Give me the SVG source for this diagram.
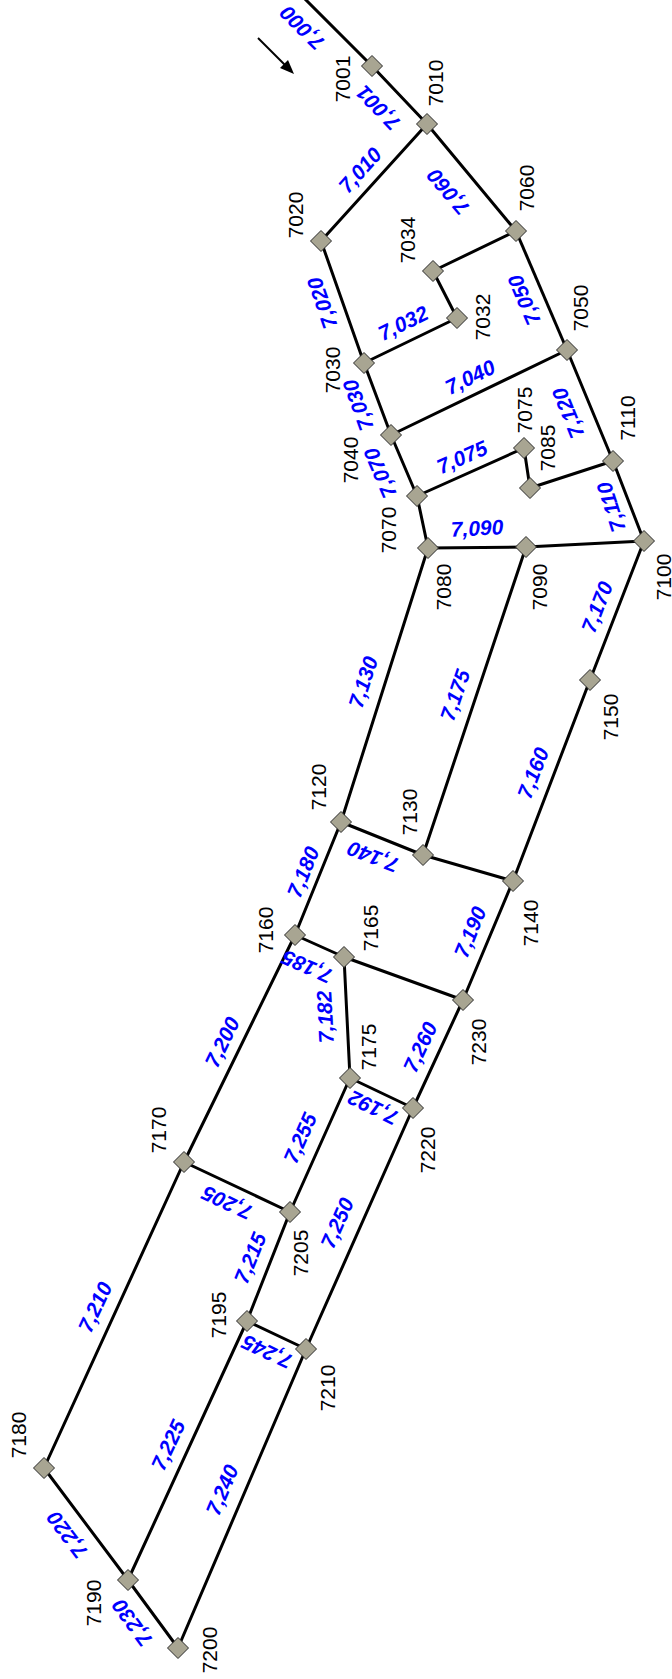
<svg xmlns="http://www.w3.org/2000/svg" xmlns:xlink="http://www.w3.org/1999/xlink" width="672" height="1679" viewBox="0 0 672 1679">
<style>
.e{stroke:#000;stroke-width:3;fill:none;stroke-linecap:round}
.nl{font-family:"Liberation Sans",Arial,sans-serif;font-size:21px;fill:#000;text-anchor:middle;dominant-baseline:central}
.el{font-family:"Liberation Sans",Arial,sans-serif;font-size:21px;font-weight:bold;font-style:italic;fill:#0000ff;text-anchor:middle;dominant-baseline:central}
.nd{fill:#a8a592;stroke:#2a2a2a;stroke-width:1}
</style>
<defs>
<polygon id="d" class="nd" points="0,-10.5 10.5,0 0,10.5 -10.5,0"/>
</defs>
<rect width="672" height="1679" fill="#fff"/>
<g id="connectors">
<path class="e" d="M304,-2 L372,66"/>
<path class="e" d="M372,66 L427,124"/>
<path class="e" d="M427,124 L321,241"/>
<path class="e" d="M427,124 L516,231"/>
<path class="e" d="M516,231 L433,271"/>
<path class="e" d="M433,271 L457,318"/>
<path class="e" d="M457,318 L364,363"/>
<path class="e" d="M321,241 L364,363"/>
<path class="e" d="M516,231 L567,350"/>
<path class="e" d="M364,363 L391,435"/>
<path class="e" d="M391,435 L567,350"/>
<path class="e" d="M567,350 L613,461"/>
<path class="e" d="M391,435 L417,496"/>
<path class="e" d="M417,496 L524,448"/>
<path class="e" d="M524,448 L530,488"/>
<path class="e" d="M530,488 L613,461"/>
<path class="e" d="M613,461 L644,541"/>
<path class="e" d="M417,496 L428,548"/>
<path class="e" d="M428,548 L526,547"/>
<path class="e" d="M526,547 L644,541"/>
<path class="e" d="M644,541 L590,680"/>
<path class="e" d="M590,680 L513,881"/>
<path class="e" d="M526,547 L423,855"/>
<path class="e" d="M428,548 L341,822"/>
<path class="e" d="M341,822 L423,855"/>
<path class="e" d="M423,855 L513,881"/>
<path class="e" d="M513,881 L463,1000"/>
<path class="e" d="M341,822 L295,935"/>
<path class="e" d="M295,935 L344,957"/>
<path class="e" d="M344,957 L463,1000"/>
<path class="e" d="M344,957 L350,1078"/>
<path class="e" d="M350,1078 L413,1108"/>
<path class="e" d="M413,1108 L463,1000"/>
<path class="e" d="M295,935 L184,1162"/>
<path class="e" d="M350,1078 L290,1212"/>
<path class="e" d="M184,1162 L290,1212"/>
<path class="e" d="M290,1212 L247,1321"/>
<path class="e" d="M413,1108 L306,1349"/>
<path class="e" d="M247,1321 L306,1349"/>
<path class="e" d="M184,1162 L44,1468"/>
<path class="e" d="M247,1321 L128,1580"/>
<path class="e" d="M306,1349 L178,1648"/>
<path class="e" d="M44,1468 L128,1580"/>
<path class="e" d="M128,1580 L178,1648"/>
<path d="M258,38 L287,67" stroke="#000" stroke-width="2" fill="none"/>
<polygon points="294,74 280,68 288,60" fill="#000"/>
</g>
<g id="edge-labels">
<text class="el" transform="translate(302,28) rotate(225)">7,000</text>
<text class="el" transform="translate(378,108) rotate(226)">7,001</text>
<text class="el" transform="translate(360,170) rotate(-48)">7,010</text>
<text class="el" transform="translate(448,192) rotate(230)">7,060</text>
<text class="el" transform="translate(322,303) rotate(-109)">7,020</text>
<text class="el" transform="translate(524,300) rotate(-113)">7,050</text>
<text class="el" transform="translate(403,323) rotate(-26)">7,032</text>
<text class="el" transform="translate(470,377) rotate(-26)">7,040</text>
<text class="el" transform="translate(358,405) rotate(-110)">7,030</text>
<text class="el" transform="translate(380,473) rotate(-113)">7,070</text>
<text class="el" transform="translate(462,457) rotate(-24)">7,075</text>
<text class="el" transform="translate(568,413) rotate(-112)">7,120</text>
<text class="el" transform="translate(611,507) rotate(-108)">7,110</text>
<text class="el" transform="translate(477,528) rotate(-3)">7,090</text>
<text class="el" transform="translate(363,682) rotate(-72)">7,130</text>
<text class="el" transform="translate(455,695) rotate(-71)">7,175</text>
<text class="el" transform="translate(597,607) rotate(-69)">7,170</text>
<text class="el" transform="translate(533,773) rotate(-69)">7,160</text>
<text class="el" transform="translate(373,857) rotate(201)">7,140</text>
<text class="el" transform="translate(303,872) rotate(-68)">7,180</text>
<text class="el" transform="translate(307,967) rotate(204)">7,185</text>
<text class="el" transform="translate(325,1017) rotate(-93)">7,182</text>
<text class="el" transform="translate(470,932) rotate(-68)">7,190</text>
<text class="el" transform="translate(222,1042) rotate(-64)">7,200</text>
<text class="el" transform="translate(420,1047) rotate(-65)">7,260</text>
<text class="el" transform="translate(373,1108) rotate(206)">7,192</text>
<text class="el" transform="translate(300,1138) rotate(-66)">7,255</text>
<text class="el" transform="translate(227,1203) rotate(205)">7,205</text>
<text class="el" transform="translate(250,1258) rotate(-68)">7,215</text>
<text class="el" transform="translate(337,1223) rotate(-66)">7,250</text>
<text class="el" transform="translate(95,1307) rotate(-65)">7,210</text>
<text class="el" transform="translate(267,1352) rotate(205)">7,245</text>
<text class="el" transform="translate(67,1535) rotate(233)">7,220</text>
<text class="el" transform="translate(132,1623) rotate(234)">7,230</text>
<text class="el" transform="translate(168,1445) rotate(-65)">7,225</text>
<text class="el" transform="translate(222,1490) rotate(-67)">7,240</text>
</g>
<g id="n7001"><use xlink:href="#d" x="372" y="66"/><text class="nl" transform="translate(342,79) rotate(-90)">7001</text></g>
<g id="n7010"><use xlink:href="#d" x="427" y="124"/><text class="nl" transform="translate(435,83) rotate(-90)">7010</text></g>
<g id="n7020"><use xlink:href="#d" x="321" y="241"/><text class="nl" transform="translate(295,215) rotate(-90)">7020</text></g>
<g id="n7060"><use xlink:href="#d" x="516" y="231"/><text class="nl" transform="translate(526,188) rotate(-90)">7060</text></g>
<g id="n7034"><use xlink:href="#d" x="433" y="271"/><text class="nl" transform="translate(407,240) rotate(-90)">7034</text></g>
<g id="n7032"><use xlink:href="#d" x="457" y="318"/><text class="nl" transform="translate(482,317) rotate(-90)">7032</text></g>
<g id="n7030"><use xlink:href="#d" x="364" y="363"/><text class="nl" transform="translate(332,370) rotate(-90)">7030</text></g>
<g id="n7050"><use xlink:href="#d" x="567" y="350"/><text class="nl" transform="translate(580,308) rotate(-90)">7050</text></g>
<g id="n7040"><use xlink:href="#d" x="391" y="435"/><text class="nl" transform="translate(350,460) rotate(-90)">7040</text></g>
<g id="n7075"><use xlink:href="#d" x="524" y="448"/><text class="nl" transform="translate(524,410) rotate(-90)">7075</text></g>
<g id="n7085"><use xlink:href="#d" x="530" y="488"/><text class="nl" transform="translate(547,448) rotate(-90)">7085</text></g>
<g id="n7110"><use xlink:href="#d" x="613" y="461"/><text class="nl" transform="translate(627,418) rotate(-90)">7110</text></g>
<g id="n7070"><use xlink:href="#d" x="417" y="496"/><text class="nl" transform="translate(388,530) rotate(-90)">7070</text></g>
<g id="n7080"><use xlink:href="#d" x="428" y="548"/><text class="nl" transform="translate(443,587) rotate(-90)">7080</text></g>
<g id="n7090"><use xlink:href="#d" x="526" y="547"/><text class="nl" transform="translate(539,587) rotate(-90)">7090</text></g>
<g id="n7100"><use xlink:href="#d" x="644" y="541"/><text class="nl" transform="translate(663,577) rotate(-90)">7100</text></g>
<g id="n7150"><use xlink:href="#d" x="590" y="680"/><text class="nl" transform="translate(610,717) rotate(-90)">7150</text></g>
<g id="n7120"><use xlink:href="#d" x="341" y="822"/><text class="nl" transform="translate(318,787) rotate(-90)">7120</text></g>
<g id="n7130"><use xlink:href="#d" x="423" y="855"/><text class="nl" transform="translate(409,812) rotate(-90)">7130</text></g>
<g id="n7140"><use xlink:href="#d" x="513" y="881"/><text class="nl" transform="translate(530,923) rotate(-90)">7140</text></g>
<g id="n7160"><use xlink:href="#d" x="295" y="935"/><text class="nl" transform="translate(265,930) rotate(-90)">7160</text></g>
<g id="n7165"><use xlink:href="#d" x="344" y="957"/><text class="nl" transform="translate(370,928) rotate(-90)">7165</text></g>
<g id="n7230"><use xlink:href="#d" x="463" y="1000"/><text class="nl" transform="translate(478,1042) rotate(-90)">7230</text></g>
<g id="n7175"><use xlink:href="#d" x="350" y="1078"/><text class="nl" transform="translate(368,1047) rotate(-90)">7175</text></g>
<g id="n7220"><use xlink:href="#d" x="413" y="1108"/><text class="nl" transform="translate(427,1150) rotate(-90)">7220</text></g>
<g id="n7170"><use xlink:href="#d" x="184" y="1162"/><text class="nl" transform="translate(158,1130) rotate(-90)">7170</text></g>
<g id="n7205"><use xlink:href="#d" x="290" y="1212"/><text class="nl" transform="translate(300,1253) rotate(-90)">7205</text></g>
<g id="n7195"><use xlink:href="#d" x="247" y="1321"/><text class="nl" transform="translate(218,1315) rotate(-90)">7195</text></g>
<g id="n7210"><use xlink:href="#d" x="306" y="1349"/><text class="nl" transform="translate(327,1388) rotate(-90)">7210</text></g>
<g id="n7180"><use xlink:href="#d" x="44" y="1468"/><text class="nl" transform="translate(18,1435) rotate(-90)">7180</text></g>
<g id="n7190"><use xlink:href="#d" x="128" y="1580"/><text class="nl" transform="translate(93,1603) rotate(-90)">7190</text></g>
<g id="n7200"><use xlink:href="#d" x="178" y="1648"/><text class="nl" transform="translate(209,1650) rotate(-90)">7200</text></g>
</svg>
